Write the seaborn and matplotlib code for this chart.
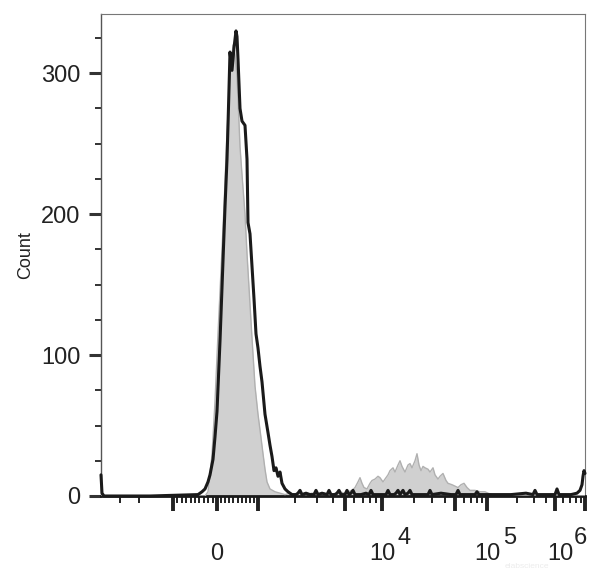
import numpy as np
import pandas as pd
import matplotlib
matplotlib.use("Agg")
import matplotlib.pyplot as plt
import matplotlib.transforms as mtransforms
import seaborn as sns

# histogram data, x in display channels (0 = left edge of the plot, 484 = right edge)
ctrl_channel = [0, 1, 3, 49, 97, 101, 104, 107, 109, 112, 114, 116, 119, 122, 124, 126, 127, 129,
                131, 133, 135, 136, 137, 139, 141, 144, 146, 147, 149, 151, 153, 155, 157, 159,
                161, 164, 167, 169, 171, 173, 175, 177, 179, 181, 184, 187, 191,
                195, 197, 199, 201, 205, 209, 213, 215, 217, 221, 226, 228, 230, 234, 236, 238,
                240, 244, 246, 248, 250, 252, 254, 260, 265, 268, 270, 272, 280, 285, 287, 289,
                293, 295, 297, 299, 302, 304, 307, 309, 311, 320, 327, 329, 331, 340, 350, 355,
                357, 359, 365, 374, 376, 378, 395, 410, 425, 432, 434, 436, 450, 454, 456, 458,
                470, 476, 479, 481, 482, 483, 484]
ctrl_count = [15, 2, 0, 0, 1, 3, 5, 10, 15, 26, 42, 60, 110, 167, 205, 239, 263, 315,
              302, 318, 330, 326, 310, 275, 266, 263, 239, 194, 186, 163, 140, 115, 105, 92,
              81, 58, 45, 36, 28, 18, 20, 14, 17, 9, 5, 3, 1,
              1, 2, 4, 1, 2, 1, 1, 4, 1, 2, 1, 4, 1, 1, 2, 4,
              1, 1, 4, 1, 2, 4, 1, 1, 2, 1, 4, 1, 1, 1, 4, 1,
              1, 2, 4, 1, 4, 1, 2, 4, 1, 1, 1, 4, 1, 2, 1, 1,
              4, 1, 1, 1, 3, 1, 1, 1, 2, 1, 4, 1, 1, 1, 5, 1,
              1, 2, 4, 8, 14, 18, 16]

stain_channel = [0, 104, 107, 111, 114, 117, 120, 123, 126, 129, 131, 132, 134, 136, 137, 139,
                 141, 144, 146, 149, 151, 154, 157, 159, 162, 164, 166, 169, 174, 179, 184, 189,
                 195, 199, 205, 211, 217, 223, 229, 235, 239, 243, 247, 251, 254, 257, 259, 261,
                 263, 266, 269, 271, 274, 277, 279, 282, 284, 287, 289, 292, 294, 297, 299, 301,
                 304, 307, 309, 311, 314, 316, 318, 320, 322, 324, 327, 329, 332, 334, 337, 339,
                 342, 345, 347, 351, 354, 357, 360, 363, 366, 369, 374, 379, 384, 387, 391, 395, 484]
stain_count = [0, 0, 3, 29, 67, 115, 160, 205, 258, 298, 312, 320, 313, 297, 282, 248,
               228, 200, 172, 136, 112, 78, 58, 47, 30, 19, 10, 5, 3, 2, 1, 2,
               1, 2, 1, 2, 1, 2, 1, 2, 3, 2, 3, 4, 6, 10, 13, 9,
               6, 5, 9, 11, 12, 14, 13, 10, 12, 15, 18, 20, 17, 22, 25, 21,
               17, 22, 23, 20, 25, 30, 22, 18, 21, 20, 19, 17, 20, 15, 12, 14,
               16, 11, 9, 8, 7, 6, 8, 9, 6, 4, 4, 3, 3, 2, 1, 0, 0]

# biexponential axis: decade anchors in display channels
dec_values = [-1e4, -1e3, 1e3, 1e4, 1e5, 1e6]
dec_channels = [-40, 72, 157, 281, 386, 484]
zero_channel = 116
x_labels = ["0", "10", "10", "10"]
x_label_values = [0, 1e4, 1e5, 1e6]
x_exponents = ["4", "5", "6"]


def to_channel(v):
    if -1e3 <= v <= 0:
        return zero_channel + (72 - zero_channel) * (-v / 1e3)
    if 0 < v <= 1e3:
        return zero_channel + (157 - zero_channel) * (v / 1e3)
    if v < 0:
        return 72 - (72 + 40) * np.log10(-v / 1e3)
    for lo, hi, clo, chi in zip(dec_values[2:-1], dec_values[3:], dec_channels[2:-1], dec_channels[3:]):
        if lo <= v <= hi:
            return clo + (chi - clo) * np.log10(v / lo)
    return np.nan


major_vals = [-1e3, 0, 1e3, 5e3, 1e4, 5e4, 1e5, 5e5, 1e6]
minor_vals = [m * 100 for m in range(-9, 10) if m != 0]
minor_vals += [-m * 1e3 for m in range(2, 10)]
for d in [1e3, 1e4, 1e5]:
    minor_vals += [m * d for m in range(2, 10) if m != 5]
major_pos = [to_channel(v) for v in major_vals]
minor_pos = [p for p in (to_channel(v) for v in minor_vals) if 6 < p <= 484]

sns.set_style("ticks")
plt.rcParams["font.family"] = ["Liberation Sans", "DejaVu Sans"]

fig = plt.figure(figsize=(6, 5.72), dpi=100)
ax = fig.add_axes([101 / 600, 76 / 572, 484 / 600, 482 / 572])

stain = pd.DataFrame({"channel": stain_channel, "count": stain_count})
ctrl = pd.DataFrame({"channel": ctrl_channel, "count": ctrl_count})

ax.fill_between(stain["channel"], stain["count"], color="#d0d0d0", lw=0, zorder=2)
sns.lineplot(data=stain, x="channel", y="count", color="#b0b0b0", lw=1.0, ax=ax, zorder=3,
             estimator=None, sort=False)
sns.lineplot(data=ctrl, x="channel", y="count", color="#1a1a1a", lw=2.2, ax=ax, zorder=4,
             estimator=None, sort=False, clip_on=False)

ax.set_xlim(0, 484)
ax.set_ylim(0, 342)

# y axis
ax.set_yticks([0, 100, 200, 300])
ax.set_yticks(np.arange(25, 342, 25), minor=True)
ax.tick_params(axis="y", which="major", length=8.6, width=2.2, color="#333333",
               labelsize=17, pad=6, labelcolor="#222222")
ax.tick_params(axis="y", which="minor", length=4.3, width=1.4, color="#333333")
ax.set_ylabel("Count", fontsize=13, color="#222222")
ax.yaxis.set_label_coords(-0.138, 0.5)

# x axis
ax.set_xticks(major_pos)
ax.set_xticks(minor_pos, minor=True)
lab = []
for v in major_vals:
    lab.append(x_labels[x_label_values.index(v)] if v in x_label_values else "")
ax.set_xticklabels(lab)
ax.tick_params(axis="x", which="major", length=10.8, width=2.8, color="#222222",
               labelsize=17, pad=23, labelcolor="#222222")
ax.tick_params(axis="x", which="minor", length=5, width=1.4, color="#222222")
ax.set_xlabel("")

# last label pulled inside the figure
shift = mtransforms.ScaledTranslation(-25 / 100, 0, fig.dpi_scale_trans)
last = ax.get_xticklabels()[-1]
last.set_transform(last.get_transform() + shift)

exp_dx = [16, 16, -3]
for v, e, dx in zip(x_label_values[1:], x_exponents, exp_dx):
    ax.annotate(e, xy=(to_channel(v), 0), xycoords=("data", "axes fraction"),
                xytext=(dx, -30), textcoords="offset points", fontsize=17,
                color="#222222", ha="center", va="center")

for s in ["top", "right"]:
    ax.spines[s].set_color("#777777")
    ax.spines[s].set_linewidth(0.8)
ax.spines["left"].set_color("#555555")
ax.spines["left"].set_linewidth(1.0)
ax.spines["bottom"].set_color("#1a1a1a")
ax.spines["bottom"].set_linewidth(2.0)

fig.text(527 / 600, 1 - 567 / 572, "elabscience", fontsize=6, color="#ececec",
         ha="center", va="center")

fig.savefig("out.png", dpi=100)
